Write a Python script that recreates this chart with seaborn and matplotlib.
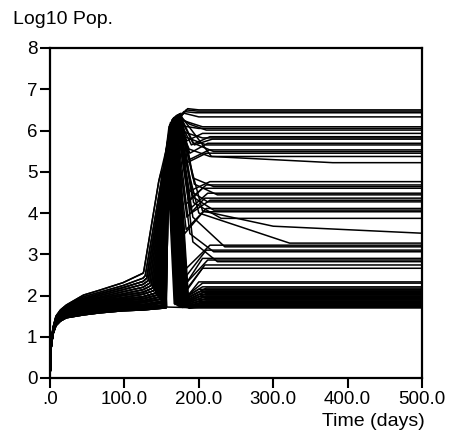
import numpy as np
import pandas as pd
import matplotlib
matplotlib.use("Agg")
import matplotlib.pyplot as plt
import seaborn as sns

# ---------------- data ----------------
x_ticks = [0, 100, 200, 300, 400, 500]
x_tick_labels = [".0", "100.0", "200.0", "300.0", "400.0", "500.0"]
y_ticks = [0, 1, 2, 3, 4, 5, 6, 7, 8]
y_tick_labels = ["0", "1", "2", "3", "4", "5", "6", "7", "8"]

# early growth phase: days and a set of profiles spanning the band
early_days = [0, 1.5, 4, 8, 14, 22, 45, 67, 98, 125]
early_profiles = [
    [0, 0.80, 1.22, 1.50, 1.65, 1.77, 2.01, 2.13, 2.31, 2.54],
    [0, 0.80, 1.21, 1.48, 1.63, 1.75, 1.97, 2.08, 2.24, 2.42],
    [0, 0.79, 1.20, 1.46, 1.61, 1.73, 1.93, 2.04, 2.19, 2.34],
    [0, 0.79, 1.19, 1.45, 1.59, 1.71, 1.90, 2.00, 2.14, 2.27],
    [0, 0.78, 1.18, 1.43, 1.57, 1.69, 1.87, 1.96, 2.09, 2.20],
    [0, 0.78, 1.17, 1.42, 1.55, 1.67, 1.84, 1.93, 2.04, 2.14],
    [0, 0.77, 1.16, 1.40, 1.53, 1.65, 1.81, 1.89, 2.00, 2.08],
    [0, 0.77, 1.15, 1.39, 1.51, 1.63, 1.78, 1.86, 1.95, 2.03],
    [0, 0.76, 1.14, 1.37, 1.50, 1.61, 1.75, 1.82, 1.91, 1.97],
    [0, 0.76, 1.13, 1.36, 1.48, 1.59, 1.72, 1.79, 1.87, 1.92],
    [0, 0.75, 1.12, 1.34, 1.46, 1.57, 1.69, 1.75, 1.83, 1.87],
    [0, 0.75, 1.11, 1.33, 1.44, 1.55, 1.66, 1.72, 1.79, 1.83],
    [0, 0.74, 1.10, 1.31, 1.43, 1.53, 1.63, 1.69, 1.75, 1.78],
    [0, 0.74, 1.09, 1.30, 1.41, 1.51, 1.60, 1.66, 1.71, 1.74],
    [0, 0.73, 1.08, 1.29, 1.40, 1.49, 1.57, 1.63, 1.68, 1.70],
    [0, 0.73, 1.07, 1.28, 1.39, 1.47, 1.55, 1.60, 1.65, 1.67],
    [0, 0.72, 1.06, 1.27, 1.38, 1.46, 1.53, 1.58, 1.63, 1.65],
]

# per-run outbreak phase: 28 runs crashing to the bottom band, 26 middle, 18 upper
run_profile = [
    0, 0, 1, 1, 2, 2, 3, 3, 4, 4, 5, 5, 6, 6, 7, 7, 8, 8, 9, 9, 10, 10, 11, 11, 12, 13, 14, 15,
    14, 10, 15, 7, 12, 16, 9, 13, 11, 8, 14, 6, 15, 12, 10, 5, 13, 8, 11, 4, 9, 14, 6, 3, 7, 2,
    16, 15, 14, 13, 16, 12, 15, 11, 14, 10, 16, 13, 9, 12, 15, 8, 11, 14,
]
rise_day = [
    126, 126, 128, 128, 130, 130, 132, 132, 134, 134, 136, 136, 138, 138, 140, 140, 142, 142, 144, 144, 146, 146, 148, 148, 150, 151, 153, 155,
    153, 146, 155, 140, 150, 156, 144, 151, 148, 142, 153, 138, 155, 150, 146, 136, 151, 142, 148, 134, 144, 153, 138, 132, 140, 130,
    156, 155, 153, 151, 156, 150, 155, 148, 153, 146, 156, 151, 144, 150, 155, 142, 148, 153,
]
rise_level = [
    2.58, 2.58, 2.48, 2.48, 2.42, 2.42, 2.36, 2.36, 2.30, 2.30, 2.24, 2.24, 2.18, 2.18, 2.12, 2.12, 2.06, 2.06, 2.01, 2.01, 1.96, 1.96, 1.91, 1.91, 1.86, 1.82, 1.77, 1.73,
    1.77, 1.96, 1.73, 2.12, 1.86, 1.70, 2.01, 1.82, 1.91, 2.06, 1.77, 2.18, 1.73, 1.86, 1.96, 2.24, 1.82, 2.06, 1.91, 2.30, 2.01, 1.77, 2.18, 2.36, 2.12, 2.42,
    1.70, 1.73, 1.77, 1.82, 1.70, 1.86, 1.73, 1.91, 1.77, 1.96, 1.70, 1.82, 2.01, 1.86, 1.73, 2.06, 1.91, 1.77,
]
knee_day = [
    146, 146.5, 148, 148, 149, 149, 150, 150, 151, 151, 152, 152, 153, 153, 153.5, 153.5, 154, 154, 155, 155, 155.5, 155.5, 156, 156, 156.5, 157, 157.5, 158,
    157.5, 155.5, 158, 153.5, 156.5, 158.5, 155, 157, 156, 154, 157.5, 153, 158, 156.5, 155.5, 152, 157, 154, 156, 151, 155, 157.5, 153, 150, 153.5, 149,
    158.5, 158, 157.5, 157, 158.5, 156.5, 158, 156, 157.5, 155.5, 158.5, 157, 155, 156.5, 158, 154, 156, 157.5,
]
knee_level = [
    4.75, 4.80, 4.60, 4.62, 4.50, 4.52, 4.45, 4.47, 4.40, 4.42, 4.35, 4.37, 4.30, 4.32, 4.25, 4.27, 4.20, 4.22, 4.20, 4.22, 4.15, 4.17, 4.10, 4.12, 4.10, 4.05, 4.00, 4.00,
    4.02, 4.18, 4.02, 4.26, 4.12, 4.02, 4.21, 4.06, 4.11, 4.21, 4.01, 4.31, 4.01, 4.11, 4.16, 4.36, 4.05, 4.22, 4.12, 4.41, 4.21, 4.02, 4.31, 4.46, 4.26, 4.51,
    4.03, 4.03, 4.03, 4.07, 4.04, 4.13, 4.04, 4.13, 4.04, 4.19, 4.05, 4.08, 4.23, 4.14, 4.05, 4.23, 4.14, 4.05,
]
peak_day = [
    149.5, 157, 158, 158.5, 159, 159.5, 160, 160.5, 161, 161.5, 162, 162.5, 163, 163.5, 164, 164.5, 165, 165.5, 166, 166.5, 167, 167.5, 168, 168.5, 169, 169.5, 170, 170.5,
    172, 169, 174, 166, 170, 176, 167, 171, 169, 166, 173, 165, 175, 171, 168, 164, 172, 166, 169, 162, 167, 173, 164, 161, 165, 160,
    170, 169, 168, 168, 171, 169, 172, 168, 171, 167, 174, 170, 166, 170, 173, 166, 169, 174,
]
peak_level = [
    5.00, 5.60, 5.70, 5.80, 5.85, 5.90, 5.95, 6.00, 6.05, 6.08, 6.10, 6.12, 6.15, 6.18, 6.20, 6.22, 6.24, 6.25, 6.27, 6.28, 6.30, 6.30, 6.32, 6.32, 6.33, 6.34, 6.34, 6.35,
    6.38, 6.35, 6.40, 6.30, 6.36, 6.42, 6.32, 6.38, 6.34, 6.30, 6.39, 6.28, 6.40, 6.36, 6.33, 6.25, 6.37, 6.30, 6.33, 6.20, 6.31, 6.38, 6.26, 6.15, 6.27, 6.10,
    6.22, 6.20, 6.20, 6.22, 6.30, 6.28, 6.35, 6.30, 6.36, 6.30, 6.40, 6.33, 6.28, 6.34, 6.38, 6.28, 6.33, 6.40,
]
dip_day = [
    157, 167, 168, 169, 170, 171, 171, 172, 173, 173, 174, 174, 175, 175, 176, 176, 177, 178, 179, 180, 181, 182, 183, 184, 185, 186, 186, 187,
    190, 186, 192, 182, 188, 194, 184, 190, 187, 183, 191, 181, 193, 205, 200, 180, 192, 180, 188, 176, 183, 192, 179, 175, 179, 174,
    185, 183, 180, 180, 186, 182, 188, 184, 190, 182, 194, 188, 181, 188, 192, 182, 187, 217,
]
dip_level = [
    1.72, 1.80, 1.78, 1.80, 1.78, 1.75, 1.82, 1.77, 1.74, 1.80, 1.76, 1.73, 1.79, 1.75, 1.72, 1.78, 1.74, 1.71, 1.77, 1.73, 1.76, 1.72, 1.74, 1.71, 1.73, 1.70, 1.72, 1.69,
    4.55, 4.30, 4.85, 4.20, 4.10, 4.70, 3.90, 4.00, 4.55, 3.60, 4.40, 3.50, 4.25, 4.05, 4.00, 2.60, 3.90, 2.40, 3.50, 2.10, 2.30, 3.30, 2.00, 1.95, 1.85, 1.85,
    6.53, 6.50, 6.46, 6.42, 6.20, 6.10, 6.15, 5.75, 5.65, 5.95, 5.65, 5.45, 5.85, 5.30, 5.70, 5.20, 5.55, 5.37,
]
settle_day = [
    200, 205, 210, 200, 205, 210, 200, 205, 210, 200, 205, 210, 200, 205, 210, 200, 205, 210, 200, 205, 210, 200, 205, 210, 200, 205, 210, 200,
    215, 210, 220, 205, 212, 225, 208, 215, 212, 210, 220, 206, 230, 300, 322, 215, 235, 210, 220, 205, 212, 225, 208, 205, 200, 205,
    200, 198, 196, 200, 205, 200, 210, 205, 215, 205, 218, 212, 210, 214, 220, 210, 215, 380,
]
settle_level = [
    1.70, 2.21, 2.18, 2.15, 2.13, 2.11, 2.09, 2.07, 2.05, 2.03, 2.01, 1.99, 1.97, 1.95, 1.93, 1.91, 1.89, 1.87, 1.85, 1.83, 1.81, 1.79, 1.77, 1.76, 1.75, 1.74, 1.72, 1.71,
    4.76, 4.68, 4.64, 4.60, 4.48, 4.44, 4.36, 4.31, 4.27, 4.11, 4.07, 4.03, 3.87, 3.68, 3.27, 3.22, 3.18, 3.10, 3.06, 2.90, 2.86, 2.82, 2.74, 2.66, 2.33, 2.30,
    6.50, 6.47, 6.43, 6.33, 6.09, 6.05, 6.01, 5.93, 5.85, 5.82, 5.79, 5.69, 5.65, 5.53, 5.49, 5.45, 5.37, 5.22,
]
end_level = [
    1.70, 2.21, 2.18, 2.15, 2.13, 2.11, 2.09, 2.07, 2.05, 2.03, 2.01, 1.99, 1.97, 1.95, 1.93, 1.91, 1.89, 1.87, 1.85, 1.83, 1.81, 1.79, 1.77, 1.76, 1.75, 1.74, 1.72, 1.71,
    4.76, 4.68, 4.64, 4.60, 4.48, 4.44, 4.36, 4.31, 4.27, 4.11, 4.07, 4.03, 3.87, 3.51, 3.27, 3.22, 3.18, 3.10, 3.06, 2.90, 2.86, 2.82, 2.74, 2.66, 2.33, 2.30,
    6.50, 6.47, 6.43, 6.33, 6.09, 6.05, 6.01, 5.93, 5.85, 5.82, 5.79, 5.69, 5.65, 5.53, 5.49, 5.45, 5.37, 5.22,
]
end_day = 500

# ---------------- assemble long table ----------------
rows = []
for i, p in enumerate(run_profile):
    days = list(early_days) + [rise_day[i], knee_day[i], peak_day[i], dip_day[i],
                               settle_day[i], end_day]
    levels = list(early_profiles[p]) + [rise_level[i], knee_level[i], peak_level[i],
                                        dip_level[i], settle_level[i], end_level[i]]
    for d, v in zip(days, levels):
        rows.append({"run": i, "day": d, "level": v})
df = pd.DataFrame(rows)

# ---------------- plot ----------------
sns.set_style("ticks")
plt.rcParams["font.family"] = ["Liberation Sans", "DejaVu Sans"]
plt.rcParams["text.color"] = "black"

fig = plt.figure(figsize=(4.5, 4.37), dpi=100)
ax = fig.add_axes([50 / 450, 1 - 378 / 437, 372 / 450, 330 / 437])

sns.lineplot(data=df, x="day", y="level", units="run", estimator=None, sort=False,
             color="black", lw=1.1, ax=ax, legend=False)

ax.set_xlim(0, 500)
ax.set_ylim(0, 8)
ax.set_xticks(x_ticks)
ax.set_xticklabels(x_tick_labels)
ax.set_yticks(y_ticks)
ax.set_yticklabels(y_tick_labels)
ax.set_xlabel("")
ax.set_ylabel("")
for s in ax.spines.values():
    s.set_visible(True)
    s.set_linewidth(1.6)
    s.set_color("black")
ax.tick_params(direction="out", length=7, width=1.5, labelsize=13.5, pad=2,
               colors="black", labelcolor="black", top=False, right=False)

fig.text(13 / 450, 1 - 19 / 437, "Log10 Pop.", ha="left", va="center",
         fontsize=14, color="black")
fig.text(425 / 450, 1 - 421 / 437, "Time (days)", ha="right", va="center",
         fontsize=14, color="black")

fig.savefig("out.png", dpi=100)
